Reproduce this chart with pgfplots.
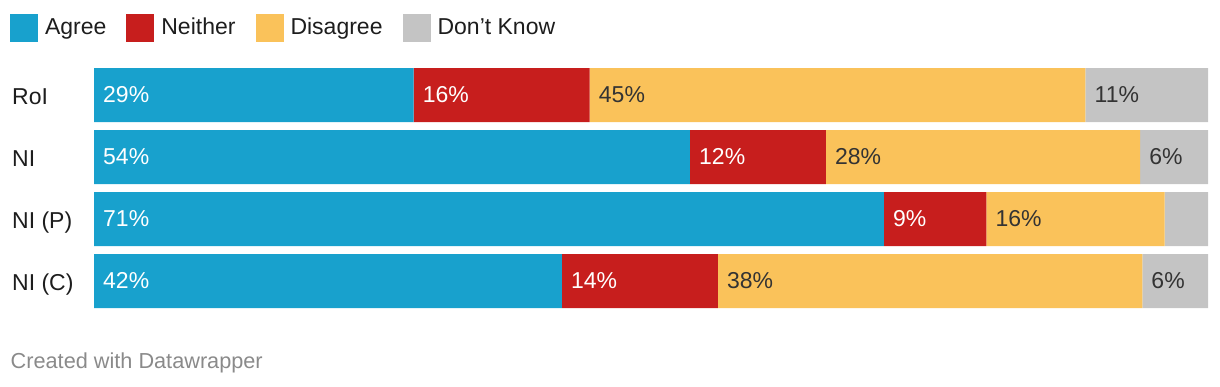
\documentclass[border=0pt]{standalone}
\usepackage{fontspec}
\setmainfont{Liberation Sans}
\usepackage{pgfplots}
\pgfplotsset{compat=1.18}
\usepackage{pgfplotstable}
\definecolor{cAgree}{HTML}{18A1CD}
\definecolor{cNeither}{HTML}{C71E1D}
\definecolor{cDis}{HTML}{FAC25A}
\definecolor{cDK}{HTML}{C4C4C4}
\definecolor{txt}{HTML}{1D1D1D}
\definecolor{dtxt}{HTML}{333333}
\definecolor{foot}{HTML}{8A8A8A}
\newcommand\fs{\fontsize{23}{27}\selectfont}

% segment widths (percent of bar)
\pgfplotstableread{
idx agree neither dis dk
0 28.7 15.8 44.5 11.0
1 53.5 12.2 28.2 6.1
2 70.9 9.2 16.0 3.9
3 42.0 14.0 38.1 5.9
}\data
% label positions (segment starts) and printed labels
\pgfplotstableread{
idx start lab
0 0 29
1 0 54
2 0 71
3 0 42
0 28.7 16
1 53.5 12
2 70.9 9
3 42.0 14
}\labwhite
\pgfplotstableread{
idx start lab
0 44.5 45
1 65.7 28
2 80.1 16
3 56.0 38
0 89.0 11
1 93.9 6
3 94.1 6
}\labdark

\pgfplotsset{geom/.style={
  at={(94pt,74pt)}, anchor=south west,
  scale only axis, width=1114pt, height=248pt,
  xmin=0, xmax=100, ymin=-0.5, ymax=3.5, y dir=reverse, clip=false}}

\begin{document}
\begin{tikzpicture}[x=1pt,y=1pt]
\path[use as bounding box] (0,0) rectangle (1220,386);
\begin{axis}[
  geom,
  xbar stacked, bar width=54pt,
  axis line style={draw=none}, tick style={draw=none},
  xtick=\empty, ytick={0,1,2,3}, yticklabels={RoI,NI,NI (P),NI (C)},
  yticklabel style={anchor=base west, inner sep=0pt, xshift=-82pt, yshift=-9pt, font=\fs, text=txt},
  legend columns=4,
  legend style={at={(-0.0754,1.2016)}, anchor=north west, draw=none, fill=none,
    inner sep=0pt, outer sep=0pt, font=\fs, text=txt,
    /tikz/every odd column/.style={column sep=7pt},
    /tikz/every even column/.style={column sep=20pt},
    nodes={inner sep=0pt, anchor=base west}},
  legend image code/.code={\fill[#1] (0pt,-8pt) rectangle (28pt,20pt);},
]
\addplot[fill=cAgree, draw=none] table[x=agree, y=idx] {\data};
\addlegendentry{Agree}
\addplot[fill=cNeither, draw=none] table[x=neither, y=idx] {\data};
\addlegendentry{Neither}
\addplot[fill=cDis, draw=none] table[x=dis, y=idx] {\data};
\addlegendentry{Disagree}
\addplot[fill=cDK, draw=none] table[x=dk, y=idx] {\data};
\addlegendentry{Don’t Know}
\end{axis}
\begin{axis}[
  geom, hide axis,
  point meta=explicit symbolic,
  nodes near coords={\pgfplotspointmeta\%},
  every node near coord/.append style={anchor=base west, inner sep=0pt, font=\fs, xshift=9pt, yshift=-7.5pt},
]
\addplot[only marks, mark=none, nodes near coords style={text=white}]
  table[x=start, y=idx, meta=lab] {\labwhite};
\addplot[only marks, mark=none, nodes near coords style={text=dtxt}]
  table[x=start, y=idx, meta=lab] {\labdark};
\end{axis}
\node[anchor=base west, inner sep=0pt, font=\fontsize{21.7}{26}\selectfont, text=foot] at (10.5,18) {Created with Datawrapper};
\end{tikzpicture}
\end{document}
